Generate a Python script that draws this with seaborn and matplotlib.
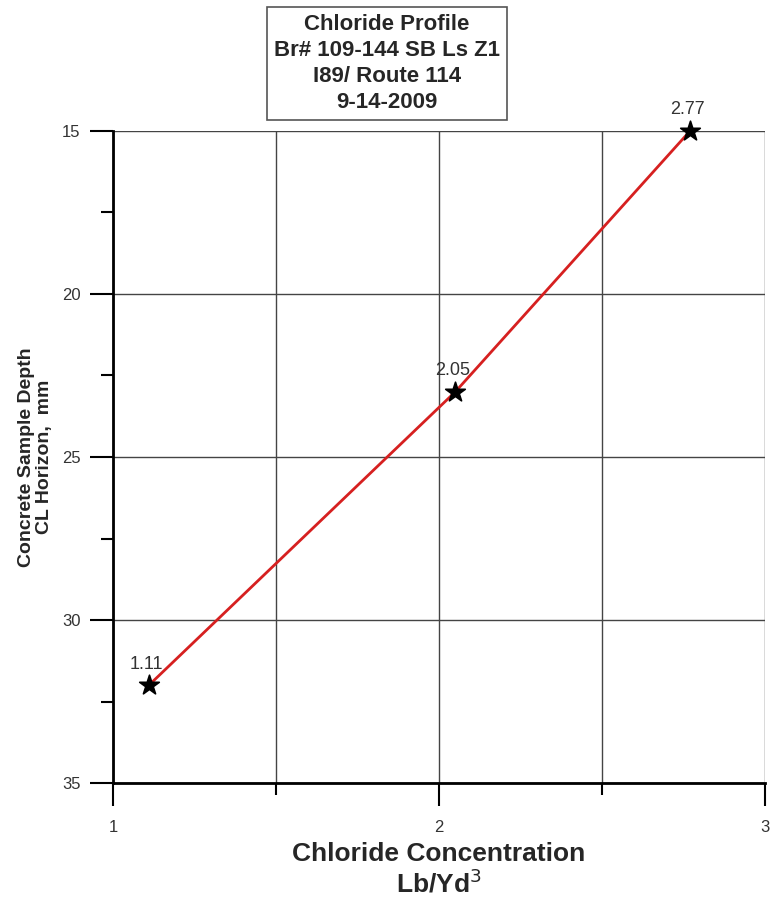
import matplotlib
matplotlib.use("Agg")
import matplotlib.pyplot as plt
import seaborn as sns
import pandas as pd
from matplotlib.ticker import MultipleLocator

# chloride profile readings
concentration = [1.11, 2.05, 2.77]
depth = [32, 23, 15]
labels = ["1.11", "2.05", "2.77"]

title_lines = ["Chloride Profile", "Br# 109-144 SB Ls Z1", "I89/ Route 114", "9-14-2009"]

sns.set_style("white")
plt.rcParams['font.family'] = ['Liberation Sans', 'DejaVu Sans']

df = pd.DataFrame({"conc": concentration, "depth": depth})

fig = plt.figure(figsize=(7.7, 9.02), dpi=100)
ax = fig.add_axes([0.1468, 0.1319, 0.8467, 0.7229])

sns.lineplot(data=df, x="conc", y="depth", ax=ax, color="#d62020", lw=2, sort=False)
sns.scatterplot(data=df, x="conc", y="depth", ax=ax, marker="*", s=220,
                color="black", edgecolor="black", zorder=5, clip_on=False)

for x, y, t in zip(concentration, depth, labels):
    ax.annotate(t, (x, y), xytext=(-2, 9), textcoords="offset points",
                ha="center", va="bottom", fontsize=13, color="#333333")

ax.set_xlim(1, 3)
ax.set_ylim(35, 15)
ax.xaxis.set_major_locator(MultipleLocator(1))
ax.xaxis.set_minor_locator(MultipleLocator(0.5))
ax.yaxis.set_major_locator(MultipleLocator(5))
ax.yaxis.set_minor_locator(MultipleLocator(2.5))
ax.grid(True, which="major", color="#444444", lw=1)
ax.grid(True, which="minor", axis="x", color="#444444", lw=1)

for side in ["top", "right"]:
    ax.spines[side].set_visible(False)
for side in ["left", "bottom"]:
    ax.spines[side].set_color("black")
    ax.spines[side].set_linewidth(2)

ax.tick_params(which="both", bottom=True, left=True, direction="out", color="black")
ax.tick_params(which="major", length=16.5, width=1.5,
               labelsize=12, labelcolor="#333333", pad=7)
ax.tick_params(which="minor", length=8.5, width=1.5)
ax.tick_params(axis="x", which="major", pad=10)

ax.set_xlabel("Chloride Concentration\nLb/Yd$^{3}$", fontsize=19, fontweight="bold",
              labelpad=5, linespacing=1.15)
ax.set_ylabel("Concrete Sample Depth\nCL Horizon,  mm", fontsize=14, fontweight="bold",
              labelpad=6, linespacing=1.1)

fig.text(0.5026, 0.9296, "\n".join(title_lines), ha="center", va="center",
         fontsize=16, fontweight="bold", linespacing=1.32,
         bbox=dict(boxstyle="square,pad=0.3", fc="white", ec="#555555", lw=1.2))

fig.savefig("out.png", dpi=100, facecolor="white")
